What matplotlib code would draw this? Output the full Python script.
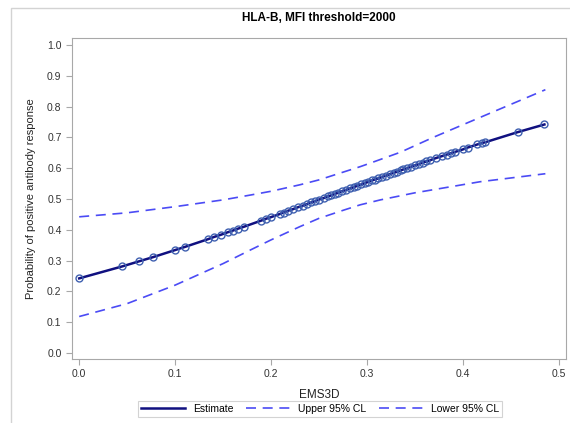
import matplotlib
matplotlib.use("Agg")
import matplotlib.pyplot as plt
from matplotlib.patches import Rectangle

plt.rcParams['font.family'] = ['Liberation Sans', 'DejaVu Sans']

# estimate curve
ems = [0.0, 0.045, 0.062, 0.077, 0.1, 0.11, 0.134, 0.141, 0.148, 0.155, 0.16,
       0.166, 0.172, 0.19, 0.195, 0.2, 0.209, 0.213, 0.218, 0.223, 0.228,
       0.233, 0.238, 0.242, 0.246, 0.25, 0.255, 0.259, 0.263, 0.267, 0.27,
       0.274, 0.278, 0.282, 0.286, 0.29, 0.294, 0.298, 0.301, 0.305, 0.308,
       0.312, 0.316, 0.32, 0.324, 0.328, 0.331, 0.335, 0.338, 0.342, 0.346,
       0.35, 0.354, 0.358, 0.362, 0.366, 0.372, 0.378, 0.383, 0.388, 0.392,
       0.4, 0.405, 0.415, 0.42, 0.423, 0.457, 0.485]
est = [0.242, 0.281, 0.297, 0.311, 0.334, 0.344, 0.369, 0.377, 0.384, 0.392,
       0.397, 0.404, 0.410, 0.430, 0.436, 0.441, 0.451, 0.456, 0.462, 0.467,
       0.473, 0.478, 0.484, 0.489, 0.493, 0.498, 0.503, 0.508, 0.512, 0.517,
       0.520, 0.525, 0.529, 0.534, 0.538, 0.543, 0.547, 0.552, 0.555, 0.560,
       0.563, 0.567, 0.572, 0.576, 0.581, 0.585, 0.588, 0.593, 0.596, 0.600,
       0.605, 0.609, 0.613, 0.618, 0.622, 0.626, 0.633, 0.639, 0.644, 0.649,
       0.653, 0.661, 0.667, 0.677, 0.682, 0.684, 0.717, 0.742]

# confidence limits
up_x = [0.0, 0.05, 0.1, 0.15, 0.179, 0.2, 0.23, 0.25, 0.293, 0.303, 0.335,
        0.369, 0.418, 0.486]
up_y = [0.442, 0.455, 0.475, 0.497, 0.513, 0.525, 0.546, 0.562, 0.605, 0.616,
        0.652, 0.70, 0.765, 0.855]
lo_x = [0.0, 0.05, 0.1, 0.15, 0.179, 0.2, 0.23, 0.25, 0.276, 0.293, 0.314,
        0.35, 0.369, 0.418, 0.486]
lo_y = [0.118, 0.16, 0.22, 0.29, 0.335, 0.367, 0.41, 0.437, 0.464, 0.481,
        0.497, 0.52, 0.53, 0.556, 0.582]

fig = plt.figure(figsize=(5.7, 4.23), dpi=100)
fig.patches.append(Rectangle((11/570, -0.1), 2.0, 1.1 - 8/423, transform=fig.transFigure,
                             fill=False, edgecolor='#D3D3D3', lw=1))
ax = fig.add_axes([72/570, 64/423, 494/570, 321/423])

ax.plot(up_x, up_y, color='#4B4BF5', lw=1.2, dashes=(6, 4), label='Upper 95% CL')
ax.plot(lo_x, lo_y, color='#4B4BF5', lw=1.2, dashes=(6, 4), label='Lower 95% CL')
ax.plot(ems, est, color='#101080', lw=1.8, label='Estimate')
ax.plot(ems, est, ls='none', marker='o', ms=5, mfc='none', mec='#3F60B0', mew=1.0)

ax.set_xlim(-0.0075, 0.5075)
ax.set_ylim(-0.02, 1.023)
ax.set_xticks([0.0, 0.1, 0.2, 0.3, 0.4, 0.5])
ax.set_yticks([i / 10 for i in range(11)])
ax.set_xticklabels(['0.0', '0.1', '0.2', '0.3', '0.4', '0.5'])
ax.set_yticklabels(['%.1f' % (i / 10) for i in range(11)])
for s in ax.spines.values():
    s.set_color('#A8A8A8')
ax.tick_params(colors='#A8A8A8', labelcolor='#333333', labelsize=7.5, length=4, width=0.8)

ax.set_xlabel('EMS3D', fontsize=8.5, color='#222222', labelpad=7)
ax.set_ylabel('Probability of positive antibody response', fontsize=8, color='#222222', labelpad=8)
ax.set_title('HLA-B, MFI threshold=2000', fontsize=8.5, fontweight='bold', pad=12)

h, l = ax.get_legend_handles_labels()
leg = fig.legend([h[2], h[0], h[1]], [l[2], l[0], l[1]], loc='center',
                 bbox_to_anchor=(320/570, 14/423), ncol=3, fontsize=7.5,
                 frameon=True, fancybox=False, edgecolor='#C8C8C8',
                 handlelength=4.2, columnspacing=1.2, borderpad=0.3, handletextpad=0.8)
leg.get_frame().set_linewidth(0.8)

fig.savefig('out.png', dpi=100)
